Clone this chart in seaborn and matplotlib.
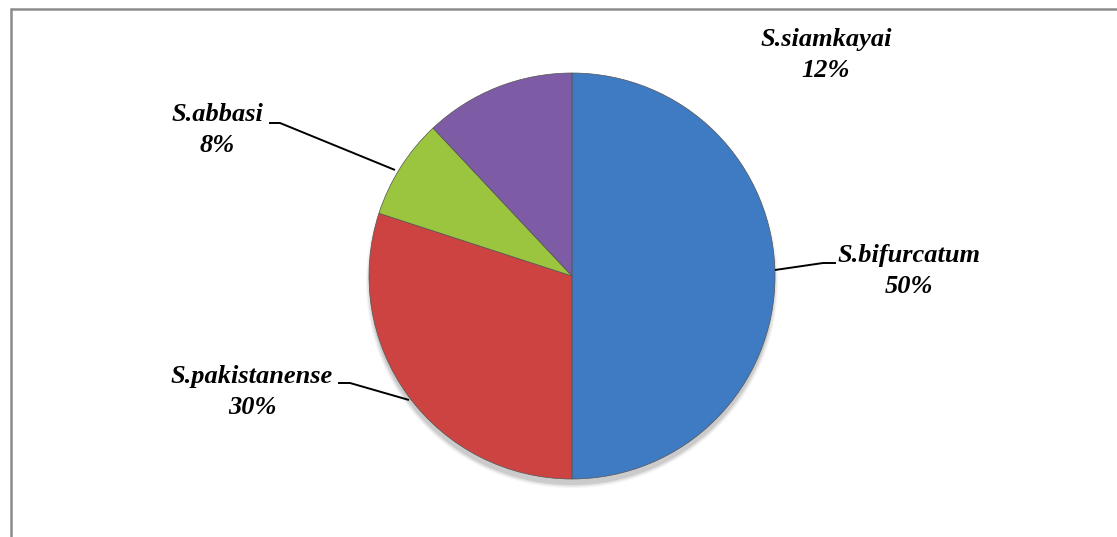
import numpy as np
import matplotlib
matplotlib.use("Agg")
import matplotlib.pyplot as plt
from matplotlib.lines import Line2D
from matplotlib.patches import Circle
import seaborn as sns

# data (clockwise from 12 o'clock)
species = ["S.bifurcatum", "S.pakistanense", "S.abbasi", "S.siamkayai"]
shares = [50, 30, 8, 12]
slice_colors = ["#3F7BC3", "#CC4341", "#9BC43F", "#7E5CA5"]

sns.set_theme(style="white")
plt.rcParams["font.family"] = ["Liberation Serif", "DejaVu Serif"]

W, H = 1117, 537
fig = plt.figure(figsize=(W / 100, H / 100), dpi=100)

# pie centre and radius in pixels
cx, cy, r = 572, 276, 203
ax = fig.add_axes([(cx - r) / W, (H - cy - r) / H, 2 * r / W, 2 * r / H])

# soft drop shadow under the pie
for k, a in zip([1.015, 1.008, 1.0], [0.04, 0.07, 0.10]):
    ax.add_patch(Circle((0, -0.03), k, color="black", alpha=a, lw=0,
                        zorder=0, clip_on=False))

pal = sns.color_palette(slice_colors)
wedges, _ = ax.pie(shares, colors=pal, startangle=90, counterclock=False,
                   radius=1.0,
                   wedgeprops=dict(edgecolor="#555555", linewidth=0.5))
for w in wedges:
    w.set_zorder(2)
ax.set_xlim(-1, 1)
ax.set_ylim(-1, 1)
ax.set_aspect("auto")
ax.axis("off")


def px(x, y):
    # pixel position -> data coordinates of the pie axes
    return (x - cx) / r, (cy - y) / r


# label positions (pixel centres) and leader lines (pixel points)
label_pos = {
    "S.bifurcatum": (909, 271),
    "S.pakistanense": (252, 392),
    "S.abbasi": (217, 130),
    "S.siamkayai": (826, 55),
}
leaders = {
    "S.bifurcatum": [(775, 270), (823, 263), (836, 263)],
    "S.pakistanense": [(409, 400), (350, 383), (338, 383)],
    "S.abbasi": [(395, 170), (280, 123), (269, 123)],
}

for name, val in zip(species, shares):
    x, y = px(*label_pos[name])
    ax.text(x, y, f"{name}\n{val}%", ha="center", va="center",
            multialignment="center", fontsize=19, fontweight="bold",
            fontstyle="italic", color="black", linespacing=1.45,
            clip_on=False)
    if name in leaders:
        pts = np.array([px(*p) for p in leaders[name]])
        ax.plot(pts[:, 0], pts[:, 1], color="black", lw=1.4,
                clip_on=False, solid_capstyle="butt")

# chart frame (only left and top edges visible)
fig.add_artist(Line2D([11 / W, 11 / W], [0, 1 - 9 / H], color="#8c8c8c",
                      lw=1.8, transform=fig.transFigure))
fig.add_artist(Line2D([11 / W, 1], [1 - 9 / H, 1 - 9 / H], color="#8c8c8c",
                      lw=1.8, transform=fig.transFigure))

fig.savefig("out.png", dpi=100, facecolor="white")
